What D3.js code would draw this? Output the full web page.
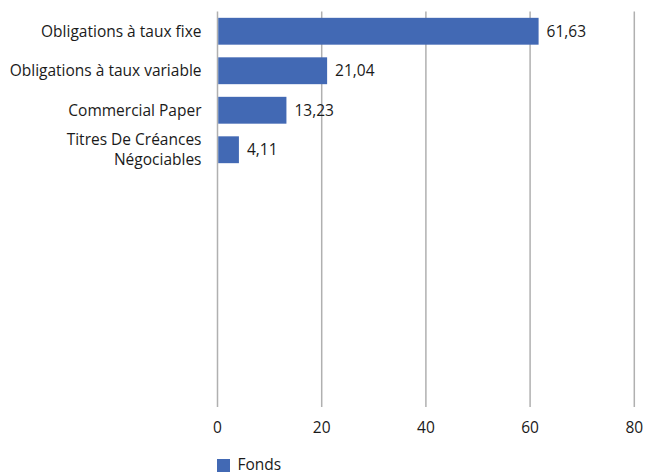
<!DOCTYPE html>
<html lang="fr">
<head>
<meta charset="utf-8">
<title>Fonds</title>
<script src="https://d3js.org/d3.v7.min.js"></script>
<style>
    body { margin: 0; background: #fff; }
    text { font-family: "Open Sans", sans-serif; fill: #1a1a1a; font-size: 15.5px; }
    .grid line { stroke: #b0b0b0; stroke-width: 1.5px; }
</style>
</head>
<body>
<svg width="645" height="472"></svg>
<script>
    // categories (top to bottom) and their values
    var categories = [["Obligations à taux fixe"], ["Obligations à taux variable"], ["Commercial Paper"], ["Titres De Créances", "Négociables"]];
    var values = [61.63, 21.04, 13.23, 4.11];
    var valueLabels = ["61,63", "21,04", "13,23", "4,11"];
    var xTicks = [0, 20, 40, 60, 80];
    var seriesName = "Fonds";
    var slots = 10; // the chart leaves room for 10 rows

    var svg = d3.select("svg");
    var color = "#4269b4";

    var x = d3.scaleLinear().domain([0, 80]).range([217.5, 634.3]);
    var y = d3.scaleBand().domain(d3.range(slots)).range([11.5, 406.5])
        .paddingInner(0.32).paddingOuter(0.16);

    // gridlines
    var grid = svg.append("g").attr("class", "grid");
    grid.selectAll("line")
        .data(xTicks)
        .enter().append("line")
        .attr("x1", function(d) { return x(d); })
        .attr("x2", function(d) { return x(d); })
        .attr("y1", 11.5)
        .attr("y2", 407);

    // tick labels
    svg.append("g").selectAll("text")
        .data(xTicks)
        .enter().append("text")
        .attr("x", function(d) { return x(d); })
        .attr("y", 428)
        .attr("dy", "0.35em")
        .attr("text-anchor", "middle")
        .text(function(d) { return d; });

    // bars
    svg.append("g").selectAll("rect")
        .data(values)
        .enter().append("rect")
        .attr("x", x(0) + 0.75)
        .attr("y", function(d, i) { return y(i); })
        .attr("width", function(d) { return x(d) - x(0) - 0.75; })
        .attr("height", y.bandwidth())
        .attr("fill", color);

    // value labels
    svg.append("g").selectAll("text")
        .data(values)
        .enter().append("text")
        .attr("x", function(d) { return x(d) + 8; })
        .attr("y", function(d, i) { return y(i) + y.bandwidth() / 2; })
        .attr("dy", "0.35em")
        .text(function(d, i) { return valueLabels[i]; });

    // category labels
    var cat = svg.append("g").selectAll("text")
        .data(categories)
        .enter().append("text")
        .attr("text-anchor", "end")
        .attr("transform", function(d, i) { return "translate(201.5," + (y(i) + y.bandwidth() / 2) + ")"; });
    cat.selectAll("tspan")
        .data(function(d) { return d; })
        .enter().append("tspan")
        .attr("x", 0)
        .attr("y", function(t, j, nodes) { return (j - (nodes.length - 1) / 2) * 19.5; })
        .attr("dy", "0.35em")
        .text(function(t) { return t; });

    // legend
    var legend = svg.append("g").attr("transform", "translate(217,459)");
    legend.append("rect")
        .attr("width", 13)
        .attr("height", 13)
        .attr("fill", color);
    legend.append("text")
        .attr("x", 20.5)
        .attr("y", 10.5)
        .text(seriesName);
</script>
</body>
</html>
